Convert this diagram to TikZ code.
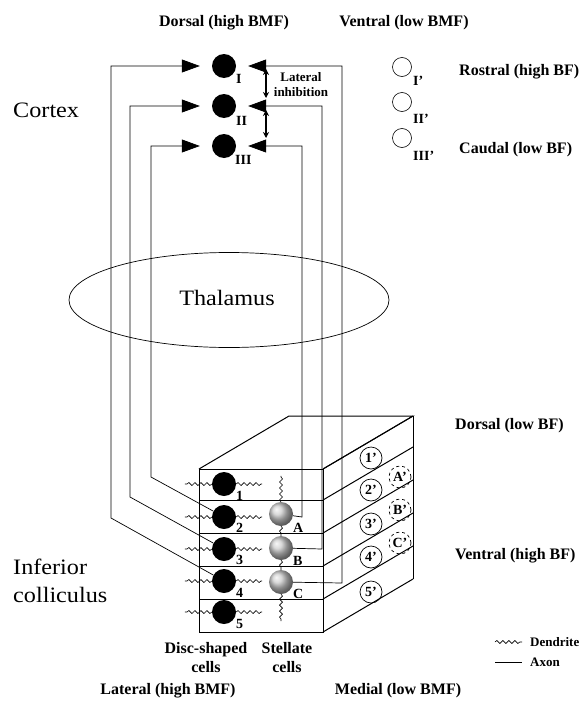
\documentclass[tikz,border=0pt]{standalone}
\usepackage{fontspec}
\setmainfont{Liberation Serif}
\newfontfamily\bigfont{Liberation Serif}[FakeStretch=1.1]
\usetikzlibrary{arrows.meta,decorations.pathmorphing,shapes.geometric}
\tikzset{
  disc/.style={circle, fill=black, minimum size=24pt, inner sep=0pt},
  stell/.style={circle, ball color=gray!40, minimum size=24pt, inner sep=0pt},
  opencell/.style={circle, draw, line width=0.6pt, minimum size=19pt, inner sep=0pt},
  lbl/.style={font=\bfseries\fontsize{14}{16}\selectfont, inner sep=0pt, anchor=base west},
  head/.style={font=\bfseries\fontsize{16}{19}\selectfont, inner sep=0pt},
  big/.style={font=\bigfont\fontsize{22}{28}\selectfont, inner sep=0pt},
  axon/.style={line width=0.7pt},
  tipped/.style={-{Triangle[length=18pt,width=13pt]}, shorten >=12pt},
  dend/.style={decorate, decoration={snake, segment length=6pt, amplitude=1.5pt}, line width=0.6pt},
  boxl/.style={line width=1pt},
  slice/.style={circle, draw, line width=0.7pt, minimum size=22pt, inner sep=0pt, font=\bfseries\fontsize{14}{16}\selectfont},
  dslice/.style={slice, dashed},
  latinh/.style={{Stealth[length=6pt,width=6pt]}-{Stealth[length=6pt,width=6pt]}, line width=1.2pt}
}
\begin{document}
\begin{tikzpicture}[x=1pt,y=-1pt]
\useasboundingbox (0,0) rectangle (587,704);

% headings
\node[head, anchor=base] (hdors) at (224,26) {Dorsal (high BMF)};
\node[head, anchor=base] (hvent) at (404,26) {Ventral (low BMF)};
\node[head, anchor=base west] (hrost) at (459,75) {Rostral (high BF)};
\node[head, anchor=base west] (hcaud) at (459,153) {Caudal (low BF)};
\node[head, anchor=base west] (hdlbf) at (455,429) {Dorsal (low BF)};
\node[head, anchor=base west] (hvhbf) at (455,559) {Ventral (high BF)};
\node[head, anchor=base] (hlat) at (168,694) {Lateral (high BMF)};
\node[head, anchor=base] (hmed) at (398,694) {Medial (low BMF)};
\node[head, anchor=base] (hdisc1) at (206,653) {Disc-shaped};
\node[head, anchor=base] (hdisc2) at (206,672) {cells};
\node[head, anchor=base] (hstel1) at (287,653) {Stellate};
\node[head, anchor=base] (hstel2) at (287,672) {cells};

% big labels
\node[big, anchor=base west] (tcortex) at (13,117) {Cortex};
\node[big, anchor=base west] (tinf1) at (13,574) {Inferior};
\node[big, anchor=base west] (tinf2) at (13,602) {colliculus};

% thalamus
\node[ellipse, draw, line width=0.7pt, minimum width=320pt, minimum height=95pt, inner sep=0pt] (thal) at (229,300) {};
\node[big, anchor=base] (tthal) at (227,305) {Thalamus};

% cortex cells
\node[disc] (cI) at (224,66) {};
\node[disc] (cII) at (224,106) {};
\node[disc] (cIII) at (224,146) {};
\node[lbl] (lI) at (236,83) {I};
\node[lbl] (lII) at (236,125) {II};
\node[lbl] (lIII) at (235,164) {III};

\node[opencell] (oI) at (402,67) {};
\node[opencell] (oII) at (402,102) {};
\node[opencell] (oIII) at (402,138) {};
\node[lbl] (loI) at (413,85) {I’};
\node[lbl] (loII) at (413,123) {II’};
\node[lbl] (loIII) at (413,160) {III’};

% lateral inhibition
\coordinate (li1a) at (266,69);
\coordinate (li1b) at (266,98);
\coordinate (li2a) at (266,110);
\coordinate (li2b) at (266,138);
\draw[latinh] (li1a) -- (li1b);
\draw[latinh] (li2a) -- (li2b);
\node[font=\bfseries\fontsize{13}{15}\selectfont, align=center, inner sep=0pt] (tlat) at (301,85) {Lateral\\inhibition};

% inferior colliculus block
\draw[boxl] (199,469) rectangle (323,632);
\foreach \yy in {500,533,566,599} \draw[boxl] (199,\yy) -- (323,\yy);
\draw[boxl] (199,469) -- (289,416) -- (413,416) -- (323,469);
\draw[boxl] (413,416) -- (413,579);
\foreach \yy in {469,500,533,566,599,632} \draw[boxl] (323,\yy) -- (413,\yy-53);

% disc-shaped cells
\node[disc] (d1) at (224,484) {};
\node[disc] (d2) at (224,517) {};
\node[disc] (d3) at (224,549) {};
\node[disc] (d4) at (224,581) {};
\node[disc] (d5) at (224,612) {};
\node[lbl] (l1) at (236,500) {1};
\node[lbl] (l2) at (236,532) {2};
\node[lbl] (l3) at (236,564) {3};
\node[lbl] (l4) at (236,597) {4};
\node[lbl] (l5) at (236,628) {5};
\foreach \c in {d1,d2,d3,d4,d5}{
  \draw[dend] (\c.west) -- ++(-27,0);
  \draw[dend] (\c.east) -- ++(26,0);
}

% stellate cells
\node[stell] (sA) at (281,514) {};
\node[stell] (sB) at (281,548) {};
\node[stell] (sC) at (281,582) {};
\node[lbl] (lA) at (293,532) {A};
\node[lbl] (lB) at (293,565) {B};
\node[lbl] (lC) at (293,598) {C};
\draw[dend] (sA.north) -- ++(0,-26);
\draw[dend] (sA.south) -- (sB.north);
\draw[dend] (sB.south) -- (sC.north);
\draw[dend] (sC.south) -- ++(0,27);

% slice labels on right face
\node[slice] (p1) at (371,458) {1’};
\node[slice] (p2) at (371,490) {2’};
\node[slice] (p3) at (371,524) {3’};
\node[slice] (p4) at (371,557) {4’};
\node[slice] (p5) at (371,592) {5’};
\node[dslice] (pA) at (400,477) {A’};
\node[dslice] (pB) at (400,510) {B’};
\node[dslice] (pC) at (400,543) {C’};

% axons
\coordinate (L2) at (151,477);
\coordinate (L3) at (130,497);
\coordinate (L4) at (111,518);
\coordinate (RA) at (302,517);
\coordinate (RB) at (322,549);
\coordinate (RC) at (342,583);
\draw[axon,tipped] (d2) -- (L2) |- (cIII);
\draw[axon,tipped] (d3) -- (L3) |- (cII);
\draw[axon,tipped] (d4) -- (L4) |- (cI);
\draw[axon,tipped] (sA) -- (RA) |- (cIII);
\draw[axon,tipped] (sB) -- (RB) |- (cII);
\draw[axon,tipped] (sC) -- (RC) |- (cI);

% legend
\coordinate (lgd1) at (495,642);
\coordinate (lgd2) at (522,642);
\coordinate (lga1) at (495,662);
\coordinate (lga2) at (522,662);
\draw[dend] (lgd1) -- (lgd2);
\draw[axon] (lga1) -- (lga2);
\node[font=\bfseries\fontsize{13}{15}\selectfont, anchor=west, inner sep=0pt] (tdend) at (530,642) {Dendrite};
\node[font=\bfseries\fontsize{13}{15}\selectfont, anchor=west, inner sep=0pt] (taxon) at (530,662) {Axon};
\end{tikzpicture}
\end{document}
